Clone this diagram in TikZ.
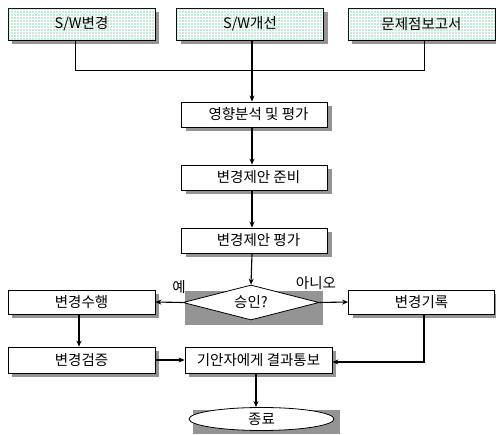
\documentclass[tikz,border=0pt]{standalone}
\usepackage{fontspec}
\setmainfont{Noto Sans CJK KR}
\usetikzlibrary{arrows.meta,patterns,shapes.geometric,shadows}
\pgfdeclarepatternformonly{bigdots}{\pgfqpoint{-1pt}{-1pt}}{\pgfqpoint{1pt}{1pt}}{\pgfqpoint{3pt}{3pt}}{%
  \pgfpathcircle{\pgfqpoint{0pt}{0pt}}{0.55pt}\pgfusepath{fill}}
\begin{document}
\begin{tikzpicture}[x=1pt,y=-1pt,
  every node/.style={font=\fontsize{14.5}{16}\selectfont},
  shadowbox/.style={draw=black, line width=0.8pt, fill=white, rectangle, inner sep=0pt,
     general shadow={shadow xshift=4pt, shadow yshift=-4pt, fill=black!42}},
  dotbox/.style={shadowbox, minimum width=147pt, minimum height=32pt,
     postaction={pattern=bigdots, pattern color=teal!70!green}},
  pbox/.style={shadowbox, minimum width=146pt},
  flow/.style={line width=1.1pt, -{Stealth[length=6pt,width=5pt]}},
  thinline/.style={line width=0.7pt}]
\useasboundingbox (0,0) rectangle (496,435);
% top boxes
\node[dotbox] (s1) at (81.5,24) {S/W변경};
\node[dotbox] (s2) at (250,24) {S/W개선};
\node[dotbox] (s3) at (421.5,24) {문제점보고서};
\coordinate (col) at (252,0);
\coordinate (m1) at (75,70);
\coordinate (m3) at (424,70);
\draw[thinline] (m1 |- s1.south) -- (m1) -- (m3) -- (m3 |- s3.south);
% process column
\node[pbox, minimum height=25pt] (a1) at (254.5,114.5) {\hspace{8pt}영향분석 및 평가};
\node[pbox, minimum height=25pt] (a2) at (254.5,177.5) {\hspace{8pt}변경제안 준비};
\node[pbox, minimum height=25pt] (a3) at (254.5,240.5) {\hspace{8pt}변경제안 평가};
\draw[flow] (s2.south -| col) -- (a1.north -| col);
\draw[flow] (a1.south -| col) -- (a2.north -| col);
\draw[flow] (a2.south -| col) -- (a3.north -| col);
% decision
\fill[black!42] (185,291) rectangle (323,325);
\node[draw=black, line width=0.8pt, fill=white, diamond, inner sep=0pt, aspect=3.9,
      minimum width=136pt, minimum height=35pt] (d) at (251,302.5) {승인?};
\draw[flow] (a3.south -| col) -- (d.north);
\node[pbox, minimum width=147pt, minimum height=24pt] (L1) at (81.5,302) {변경수행};
\node[pbox, minimum height=24pt] (R1) at (421.5,302) {변경기록};
\draw[flow] (d.west) -- (L1.east);
\draw[flow] (d.east) -- (R1.west);
\node (yes) at (179,287) {예};
\node (no) at (316,283) {아니오};
% bottom row
\node[pbox, minimum width=147pt, minimum height=26pt] (L2) at (81.5,360) {변경검증};
\node[pbox, minimum width=147pt, minimum height=26pt] (C) at (258.5,360) {기안자에게 결과통보};
\coordinate (lc) at (79,0);
\draw[flow] (L1.south -| lc) -- (L2.north -| lc);
\draw[flow] (L2.east) -- (C.west);
\draw[flow] (R1.south -| m3) |- ([yshift=-2pt]C.east);
% end
\fill[black!42] (193,410) rectangle (340,434);
\node[draw=black, line width=0.8pt, fill=white, ellipse, inner sep=0pt,
      minimum width=145pt, minimum height=23pt] (E) at (261.5,419) {종료};
\coordinate (ec) at (256,0);
\draw[flow] (C.south -| ec) -- (E.north -| ec);
\end{tikzpicture}
\end{document}
